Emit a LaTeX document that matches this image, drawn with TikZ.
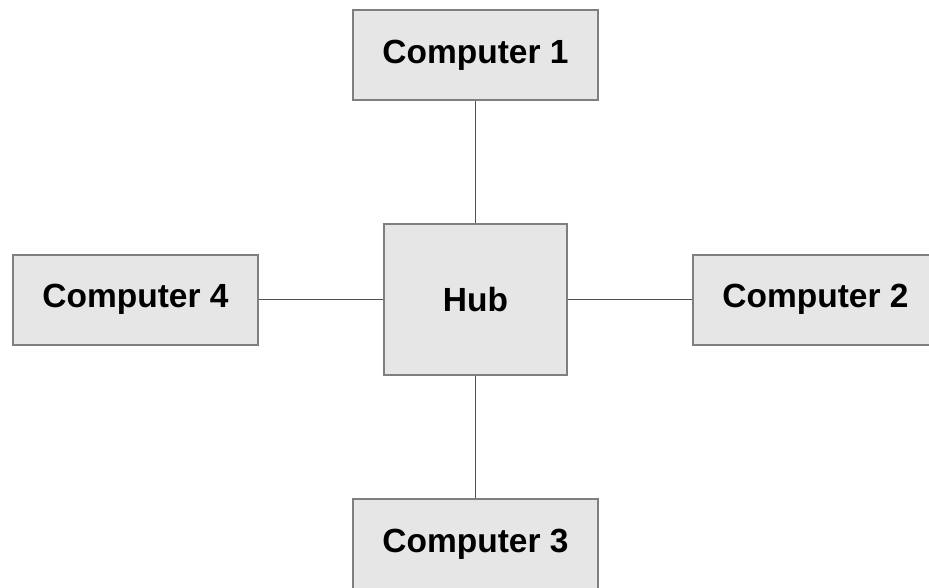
\documentclass[tikz,border=0pt]{standalone}
\usepackage{fontspec}
\setmainfont{Liberation Sans}
\usetikzlibrary{positioning}
\definecolor{boxgray}{HTML}{E6E6E6}
\definecolor{edgegray}{HTML}{7F7F7F}
\definecolor{wiregray}{HTML}{505050}
\tikzset {
  node distance={122pt and 124pt},
  % box for a computer
  pc/.style = {draw=edgegray, fill=boxgray, line width=2pt, minimum width=245pt, minimum height=90pt,
    font=\fontsize{33.5}{40}\selectfont\bfseries},
  % the hub in the middle
  hub/.style = {pc, minimum width=183pt, minimum height=151pt},
  % cables
  wire/.style = {wiregray, line width=1.5pt},
}

\begin{document}
\begin{tikzpicture}
      \useasboundingbox (0pt, 0pt) rectangle (929pt, -588pt);

      \node[hub] (hub) at (475.5pt, -299.5pt) {Hub};

      \node[pc, above=of hub] (c1) {Computer 1};
      \node[pc, right=of hub] (c2) {Computer 2};
      \node[pc, below=of hub] (c3) {Computer 3};
      \node[pc, left=of hub] (c4) {Computer 4};

      \draw [wire] (hub) -- (c1);
      \draw [wire] (hub) -- (c2);
      \draw [wire] (hub) -- (c3);
      \draw [wire] (hub) -- (c4);
    \end{tikzpicture}
\end{document}
